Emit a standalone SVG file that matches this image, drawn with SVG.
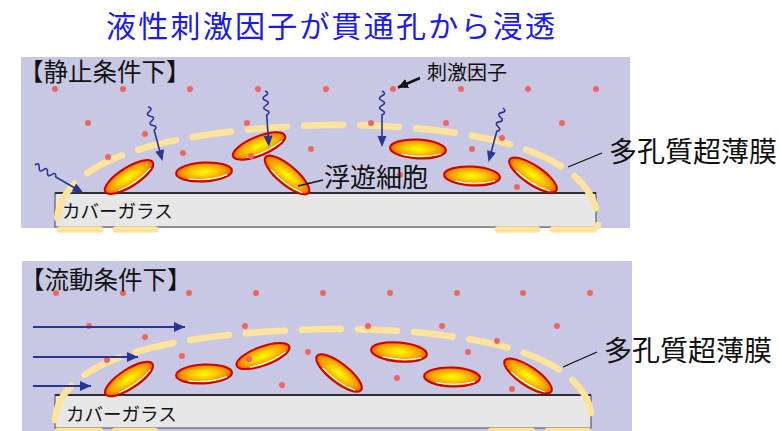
<svg xmlns="http://www.w3.org/2000/svg" xmlns:xlink="http://www.w3.org/1999/xlink" width="782" height="431" viewBox="0 0 782 431">
  <style>
    .bg { fill: #c9c8e4; }
    .glass { fill: #e6e7e6; stroke: #444; stroke-width: 1; }
    .glass-top { stroke: #111; stroke-width: 1.3; }
    .membrane { fill: none; stroke: #fde39c; stroke-width: 6.5; stroke-linecap: round; stroke-dasharray: 39 17; }
    .membrane-seg { fill: none; stroke: #fde39c; stroke-width: 6.5; stroke-linecap: round; }
    .dot { fill: #f06464; }
    .cell-body { fill: url(#cellFill); stroke: #cc0000; stroke-width: 2; }
    .cell-shine { fill: none; stroke: #ffffff; stroke-width: 1.2; }
    .flow { stroke: #283593; stroke-width: 2; fill: none; }
    .stim { stroke: #283593; stroke-width: 1.6; fill: none; }
    .leader { stroke: #111; stroke-width: 1.3; fill: none; }
    .label { font-family: "Noto Sans CJK JP", "Noto Sans", sans-serif; fill: #111; }
    .title { font-family: "Noto Sans CJK JP", "Noto Sans", sans-serif; fill: #1a1aee; font-size: 30px; }
  </style>
  <defs>
    <radialGradient id="cellFill" cx="0.5" cy="0.5" r="0.5">
      <stop offset="0" stop-color="#ffff00"/>
      <stop offset="0.4" stop-color="#ffd000"/>
      <stop offset="0.78" stop-color="#f59a00"/>
      <stop offset="1" stop-color="#e45e00"/>
    </radialGradient>
    <g id="cell">
      <ellipse class="cell-body" cx="0" cy="0" rx="28" ry="9.5"/>
      <path class="cell-shine" d="M -16 6 Q 4 9.5 23 3.8"/>
    </g>
    <g id="stimArrow">
      <path class="stim" d="M0 0 q2.4 -5 4.8 0 t4.8 0 t4.8 0 t4.8 0 t4.8 0 L46 0"/>
      <polygon points="45,-4.5 56,0 45,4.5" fill="#283593"/>
    </g>
    <marker id="flowHead" markerUnits="userSpaceOnUse" markerWidth="12" markerHeight="10" refX="11" refY="5" orient="auto">
      <polygon points="0,0 11,5 0,10" fill="#283593"/>
    </marker>
    <marker id="blackHead" markerUnits="userSpaceOnUse" markerWidth="11" markerHeight="10" refX="10" refY="5" orient="auto">
      <polygon points="0,0 10,5 0,10" fill="#111"/>
    </marker>
  </defs>

  <!-- title -->
  <text class="title" x="106" y="37" textLength="449" lengthAdjust="spacing">液性刺激因子が貫通孔から浸透</text>

  <!-- ===== static condition panel ===== -->
  <g id="panel-static">
    <rect class="bg" x="21" y="57" width="609" height="171"/>
    <g id="glass-static">
      <rect class="glass" x="55" y="193" width="541" height="34"/>
      <line class="glass-top" x1="55" y1="193" x2="596" y2="193"/>
      <text class="label" x="62" y="218" font-size="18.5">カバーガラス</text>
    </g>
    <g id="membrane-static">
      <path class="membrane" stroke-dashoffset="-8" d="M 57 226 C 54 150, 200 128, 330 125 C 470 124, 600 150, 598 226"/>
      <line class="membrane-seg" x1="60" y1="229.5" x2="100" y2="229.5"/>
      <line class="membrane-seg" x1="116" y1="229.5" x2="155" y2="229.5"/>
      <line class="membrane-seg" x1="498" y1="229.5" x2="537" y2="229.5"/>
      <line class="membrane-seg" x1="553" y1="229.5" x2="594" y2="229.5"/>
    </g>
    <g id="cells-static">
      <use xlink:href="#cell" href="#cell" transform="translate(129 177) rotate(-32)"/>
      <use xlink:href="#cell" href="#cell" transform="translate(204 172) rotate(-3)"/>
      <use xlink:href="#cell" href="#cell" transform="translate(259 146) rotate(-22)"/>
      <use xlink:href="#cell" href="#cell" transform="translate(287 175) rotate(40)"/>
      <use xlink:href="#cell" href="#cell" transform="translate(418 149) rotate(3)"/>
      <use xlink:href="#cell" href="#cell" transform="translate(472 176) rotate(3)"/>
      <use xlink:href="#cell" href="#cell" transform="translate(533 175) rotate(34)"/>
    </g>
    <g id="factors-static">
      <circle class="dot" cx="55" cy="89" r="3"/>
      <circle class="dot" cx="123" cy="89" r="3"/>
      <circle class="dot" cx="190" cy="89" r="3"/>
      <circle class="dot" cx="258" cy="89" r="3"/>
      <circle class="dot" cx="326" cy="89" r="3"/>
      <circle class="dot" cx="393" cy="89" r="3"/>
      <circle class="dot" cx="461" cy="89" r="3"/>
      <circle class="dot" cx="528" cy="89" r="3"/>
      <circle class="dot" cx="596" cy="89" r="3"/>
      <circle class="dot" cx="88" cy="123" r="3"/>
      <circle class="dot" cx="247" cy="123" r="3"/>
      <circle class="dot" cx="371" cy="123" r="3"/>
      <circle class="dot" cx="446" cy="123" r="3"/>
      <circle class="dot" cx="562" cy="123" r="3"/>
      <circle class="dot" cx="145" cy="134" r="3"/>
      <circle class="dot" cx="502" cy="138" r="3"/>
      <circle class="dot" cx="183" cy="153" r="3"/>
      <circle class="dot" cx="311" cy="149" r="3"/>
      <circle class="dot" cx="472" cy="149" r="3"/>
      <circle class="dot" cx="108" cy="157" r="3"/>
      <circle class="dot" cx="251" cy="156" r="3"/>
      <circle class="dot" cx="400" cy="175" r="3"/>
      <circle class="dot" cx="517" cy="187" r="3"/>
    </g>
    <g id="connectors-static">
      <use xlink:href="#stimArrow" href="#stimArrow" transform="translate(35 165) rotate(30)"/>
      <use xlink:href="#stimArrow" href="#stimArrow" transform="translate(148 107) rotate(75)"/>
      <use xlink:href="#stimArrow" href="#stimArrow" transform="translate(265 91) rotate(86)"/>
      <use xlink:href="#stimArrow" href="#stimArrow" transform="translate(382 91) rotate(90)"/>
      <use xlink:href="#stimArrow" href="#stimArrow" transform="translate(503 108) rotate(105)"/>
      <line stroke="#111" stroke-width="2.5" x1="420" y1="78" x2="398" y2="87.5" marker-end="url(#blackHead)"/>
      <line class="leader" x1="298" y1="186" x2="323" y2="180"/>
      <line class="leader" x1="568" y1="167" x2="602" y2="153"/>
    </g>
    <g id="labels-static">
      <text class="label" x="19" y="81" font-size="24.5">【静止条件下】</text>
      <text class="label" x="427" y="80" font-size="20">刺激因子</text>
      <text class="label" x="324" y="187" font-size="26">浮遊細胞</text>
      <text class="label" x="609" y="162" font-size="28">多孔質超薄膜</text>
    </g>
  </g>

  <!-- ===== flow condition panel ===== -->
  <g id="panel-flow">
    <rect class="bg" x="22" y="261" width="610" height="170"/>
    <g id="glass-flow">
      <rect class="glass" x="55" y="395" width="536" height="33"/>
      <line class="glass-top" x1="55" y1="395" x2="591" y2="395"/>
      <text class="label" x="66" y="421" font-size="18.5">カバーガラス</text>
    </g>
    <g id="membrane-flow">
      <path class="membrane" stroke-dashoffset="-6" d="M 55 426 C 52 352, 195 332, 325 329 C 460 328, 594 350, 592 424"/>
      <line class="membrane-seg" x1="58" y1="431" x2="100" y2="431"/>
      <line class="membrane-seg" x1="115" y1="431" x2="155" y2="431"/>
      <line class="membrane-seg" x1="491" y1="431" x2="532" y2="431"/>
      <line class="membrane-seg" x1="548" y1="431" x2="588" y2="431"/>
    </g>
    <g id="cells-flow">
      <use xlink:href="#cell" href="#cell" transform="translate(129 379) rotate(-33)"/>
      <use xlink:href="#cell" href="#cell" transform="translate(204 374) rotate(-3)"/>
      <use xlink:href="#cell" href="#cell" transform="translate(263 356) rotate(-20)"/>
      <use xlink:href="#cell" href="#cell" transform="translate(339 373) rotate(38)"/>
      <use xlink:href="#cell" href="#cell" transform="translate(399 352) rotate(5)"/>
      <use xlink:href="#cell" href="#cell" transform="translate(452 377) rotate(2)"/>
      <use xlink:href="#cell" href="#cell" transform="translate(528 376) rotate(34)"/>
    </g>
    <g id="factors-flow">
      <circle class="dot" cx="56" cy="293" r="3"/>
      <circle class="dot" cx="123" cy="293" r="3"/>
      <circle class="dot" cx="189" cy="293" r="3"/>
      <circle class="dot" cx="256" cy="293" r="3"/>
      <circle class="dot" cx="323" cy="293" r="3"/>
      <circle class="dot" cx="390" cy="293" r="3"/>
      <circle class="dot" cx="457" cy="293" r="3"/>
      <circle class="dot" cx="523" cy="293" r="3"/>
      <circle class="dot" cx="590" cy="293" r="3"/>
      <circle class="dot" cx="89" cy="326" r="3"/>
      <circle class="dot" cx="245" cy="326" r="3"/>
      <circle class="dot" cx="368" cy="326" r="3"/>
      <circle class="dot" cx="442" cy="326" r="3"/>
      <circle class="dot" cx="557" cy="326" r="3"/>
      <circle class="dot" cx="145" cy="337" r="3"/>
      <circle class="dot" cx="497" cy="341" r="3"/>
      <circle class="dot" cx="182" cy="356" r="3"/>
      <circle class="dot" cx="308" cy="352" r="3"/>
      <circle class="dot" cx="468" cy="352" r="3"/>
      <circle class="dot" cx="107" cy="360" r="3"/>
      <circle class="dot" cx="249" cy="359" r="3"/>
      <circle class="dot" cx="282" cy="385" r="3"/>
      <circle class="dot" cx="397" cy="378" r="3"/>
      <circle class="dot" cx="512" cy="389" r="3"/>
    </g>
    <g id="connectors-flow">
      <line class="flow" x1="33" y1="327" x2="185" y2="327" marker-end="url(#flowHead)"/>
      <line class="flow" x1="33" y1="357" x2="138" y2="357" marker-end="url(#flowHead)"/>
      <line class="flow" x1="33" y1="386" x2="91" y2="386" marker-end="url(#flowHead)"/>
      <line class="leader" x1="563" y1="367" x2="597" y2="352"/>
    </g>
    <g id="labels-flow">
      <text class="label" x="20" y="289" font-size="24.5">【流動条件下】</text>
      <text class="label" x="604" y="361" font-size="28">多孔質超薄膜</text>
    </g>
  </g>
</svg>
